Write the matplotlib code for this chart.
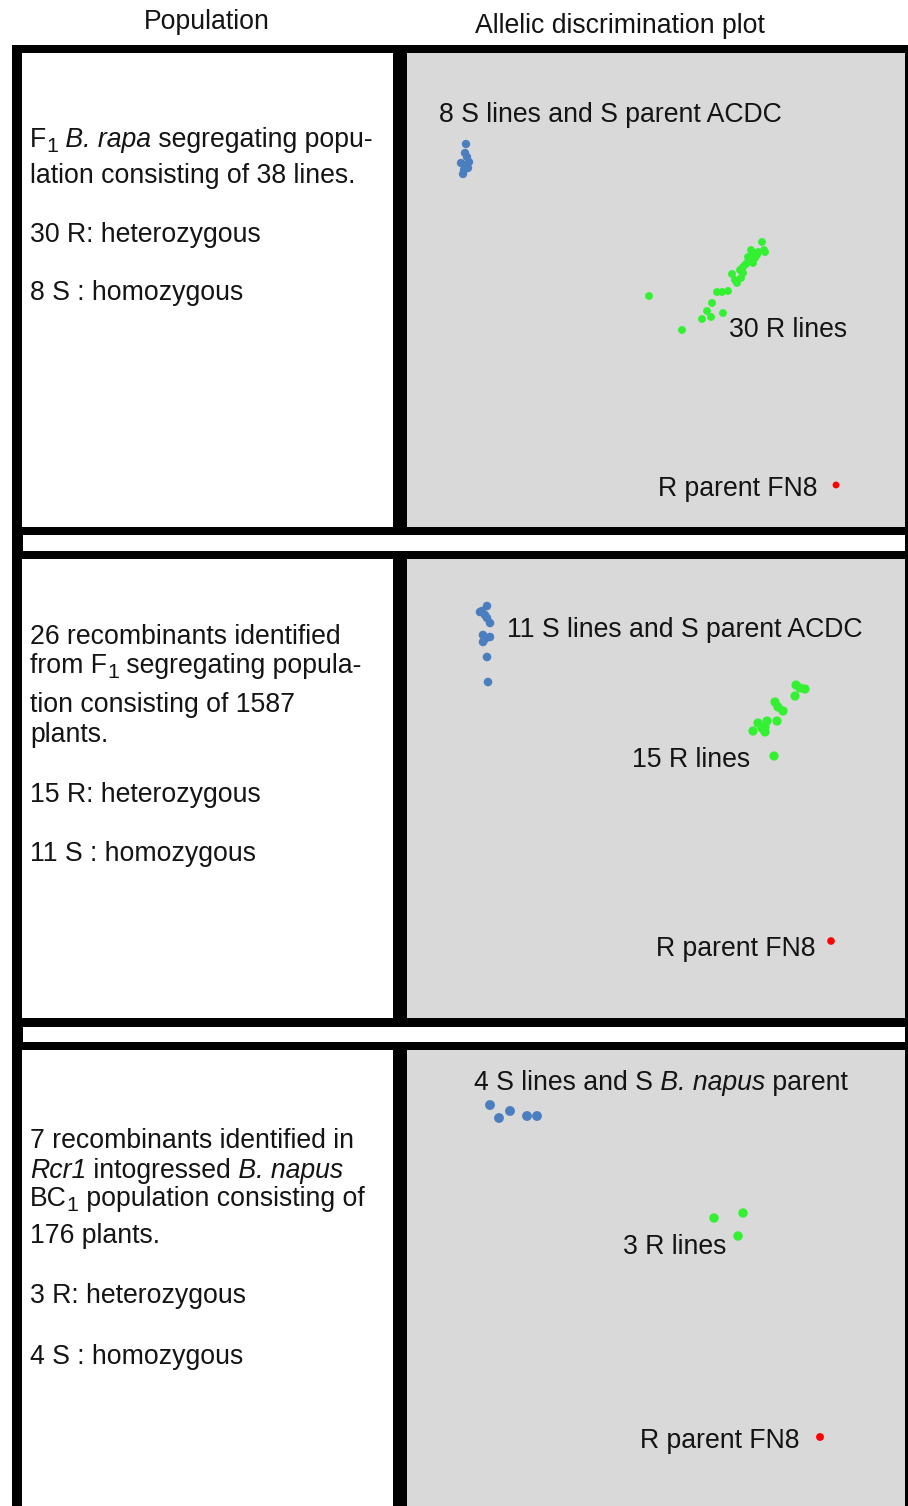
import matplotlib.pyplot as plt
from matplotlib.patches import Rectangle

plt.rcParams['font.family'] = ['Liberation Sans', 'DejaVu Sans']

W, H = 908, 1506
TEXT = '#141414'
GREY = '#d9d9d9'
BLUE = '#4a7ebf'
GREEN = '#33f033'
RED = '#ff0000'
FS = 19.2

# Allelic discrimination values (relative fluorescence units, per panel)
s1_x = [0.59, 0.58, 0.60, 0.54, 0.62, 0.59, 0.61, 0.57, 0.56]
s1_y = [3.83, 3.74, 3.70, 3.64, 3.65, 3.62, 3.59, 3.57, 3.53]
r1_x = [2.42, 2.75, 2.95, 3.04, 3.00, 3.05, 3.16, 3.10, 3.15, 3.21,
        3.25, 3.30, 3.34, 3.36, 3.36, 3.40, 3.42, 3.46, 3.41, 3.44,
        3.46, 3.51, 3.55, 3.57, 3.58, 3.33, 3.28, 3.38, 3.48, 3.50]
r1_y = [2.31, 1.97, 2.08, 2.10, 2.16, 2.24, 2.14, 2.35, 2.35, 2.36,
        2.53, 2.44, 2.49, 2.54, 2.60, 2.64, 2.67, 2.64, 2.70, 2.77,
        2.74, 2.75, 2.85, 2.77, 2.75, 2.57, 2.47, 2.62, 2.69, 2.72]
p1_x, p1_y = [4.29], [0.42]

s2_x = [0.80, 0.75, 0.78, 0.80, 0.83, 0.76, 0.83, 0.78, 0.76, 0.80, 0.81, 0.73]
s2_y = [4.12, 4.07, 4.03, 4.00, 3.95, 3.83, 3.81, 3.79, 3.76, 3.61, 3.36, 4.06]
r2_x = [3.89, 3.98, 3.93, 3.88, 3.68, 3.71, 3.76, 3.70, 3.60, 3.51,
        3.58, 3.46, 3.58, 3.55, 3.67]
r2_y = [3.33, 3.29, 3.30, 3.22, 3.16, 3.11, 3.07, 2.97, 2.97, 2.95,
        2.91, 2.87, 2.86, 2.90, 2.62]
p2_x, p2_y = [4.24], [0.77]

s3_x = [0.83, 0.92, 1.03, 1.20, 1.30]
s3_y = [4.01, 3.88, 3.95, 3.90, 3.90]
r3_x = [3.07, 3.36, 3.31]
r3_y = [2.88, 2.93, 2.70]
p3_x, p3_y = [4.13], [0.69]

# population descriptions: each line is a list of (text, style) pieces
# style: 'n' normal, 'i' italic, 'sub' subscript
pop_text = [
    [[("F", 'n'), ("1", 'sub'), (" B. rapa", 'i'), (" segregating popu-", 'n')],
     [("lation consisting of 38 lines.", 'n')],
     [("30 R: heterozygous", 'n')],
     [("8 S : homozygous", 'n')]],
    [[("26 recombinants identified", 'n')],
     [("from F", 'n'), ("1", 'sub'), (" segregating popula-", 'n')],
     [("tion consisting of 1587", 'n')],
     [("plants.", 'n')],
     [("15 R: heterozygous", 'n')],
     [("11 S : homozygous", 'n')]],
    [[("7 recombinants identified in", 'n')],
     [("Rcr1", 'i'), (" intogressed", 'n'), (" B. napus", 'i')],
     [("BC", 'n'), ("1", 'sub'), (" population consisting of", 'n')],
     [("176 plants.", 'n')],
     [("3 R: heterozygous", 'n')],
     [("4 S : homozygous", 'n')]],
]
pop_baselines = [
    [147, 183, 242, 300],
    [644, 673, 712, 742, 802, 861],
    [1148, 1178, 1206, 1243, 1303, 1364],
]

s_labels = [
    [("8 S lines and S parent ACDC", 'n')],
    [("11 S lines and S parent ACDC", 'n')],
    [("4 S lines and S", 'n'), (" B. napus", 'i'), (" parent", 'n')],
]
r_labels = ["30 R lines", "15 R lines", "3 R lines"]
p_label = "R parent FN8"

# label anchors in panel units: (S label x, y), (R label x, y), (parent label right x, y)
label_pos = [
    [(0.32, 4.05), (3.22, 1.90), (4.11, 0.31)],
    [(1.00, 3.81), (2.25, 2.51), (4.08, 0.62)],
    [(0.67, 4.16), (2.16, 2.52), (3.93, 0.58)],
]

series = [
    (s1_x, s1_y, r1_x, r1_y, p1_x, p1_y, (36, 32, 24)),
    (s2_x, s2_y, r2_x, r2_y, p2_x, p2_y, (38, 44, 30)),
    (s3_x, s3_y, r3_x, r3_y, p3_x, p3_y, (50, 46, 32)),
]

# row extents in pixels (top, bottom)
rows = [(53, 527), (559, 1018), (1050, 1506)]
bands = [(535, 551), (1027, 1042)]


def px_box(x0, y0, x1, y1):
    return [x0 / W, 1 - y1 / H, (x1 - x0) / W, (y1 - y0) / H]


def pixel_axes(z):
    a = fig.add_axes([0, 0, 1, 1], zorder=z)
    a.set_xlim(0, W)
    a.set_ylim(H, 0)
    a.axis('off')
    a.patch.set_visible(False)
    return a


fig = plt.figure(figsize=(W / 100, H / 100), dpi=100)
fig.patch.set_facecolor('white')
renderer = fig.canvas.get_renderer()

# table frame underneath, text layer on top
bg = pixel_axes(0)
top_layer = pixel_axes(10)


def rich_text(x, y, pieces, ha='left'):
    """Write pieces one after another on a baseline at (x, y) in pixel coords."""
    placed = []
    cx = x
    for s, style in pieces:
        size = FS * 0.8 if style == 'sub' else FS
        dy = 5 if style == 'sub' else 0
        t = top_layer.text(cx, y + dy, s, fontsize=size, color=TEXT, ha='left', va='baseline',
                           style='italic' if style == 'i' else 'normal')
        cx += t.get_window_extent(renderer).width
        placed.append(t)
    if ha == 'right':
        for t in placed:
            t.set_x(t.get_position()[0] - (cx - x))
    return placed


bg.add_patch(Rectangle((12, 45), W - 12, H - 45, facecolor='black', edgecolor='none'))
for top, bot in rows:
    bg.add_patch(Rectangle((22, top), 393 - 22, bot - top, facecolor='white', edgecolor='none'))
for top, bot in bands:
    bg.add_patch(Rectangle((23, top), 905 - 23, bot - top, facecolor='white', edgecolor='none'))

top_layer.text(207, 29, "Population", fontsize=FS, color=TEXT, ha='center', va='baseline')
top_layer.text(620, 33, "Allelic discrimination plot", fontsize=FS, color=TEXT,
               ha='center', va='baseline')

for lines, ys in zip(pop_text, pop_baselines):
    for pieces, y in zip(lines, ys):
        rich_text(30, y, pieces)

to_px = top_layer.transData.inverted()
for i, (top, bot) in enumerate(rows):
    ax = fig.add_axes(px_box(407, top, 905, bot), zorder=5)
    ax.set_facecolor(GREY)
    ax.set_xlim(0, 4.98)
    ax.set_ylim(0, (bot - top) / 100)
    ax.set_xticks([])
    ax.set_yticks([])
    for sp in ax.spines.values():
        sp.set_visible(False)

    sx, sy, rx, ry, px, py, sizes = series[i]
    ax.scatter(sx, sy, s=sizes[0], color=BLUE, edgecolors='none', zorder=3)
    ax.scatter(rx, ry, s=sizes[1], color=GREEN, edgecolors='none', zorder=3)
    ax.scatter(px, py, s=sizes[2], color=RED, edgecolors='none', zorder=3)

    (sxl, syl), (rxl, ryl), (pxl, pyl) = label_pos[i]
    bx, by = to_px.transform(ax.transData.transform((sxl, syl)))
    rich_text(bx, by, s_labels[i])
    ax.text(rxl, ryl, r_labels[i], fontsize=FS, color=TEXT, ha='left', va='baseline')
    ax.text(pxl, pyl, p_label, fontsize=FS, color=TEXT, ha='right', va='baseline')

fig.savefig('out.png', dpi=100)
